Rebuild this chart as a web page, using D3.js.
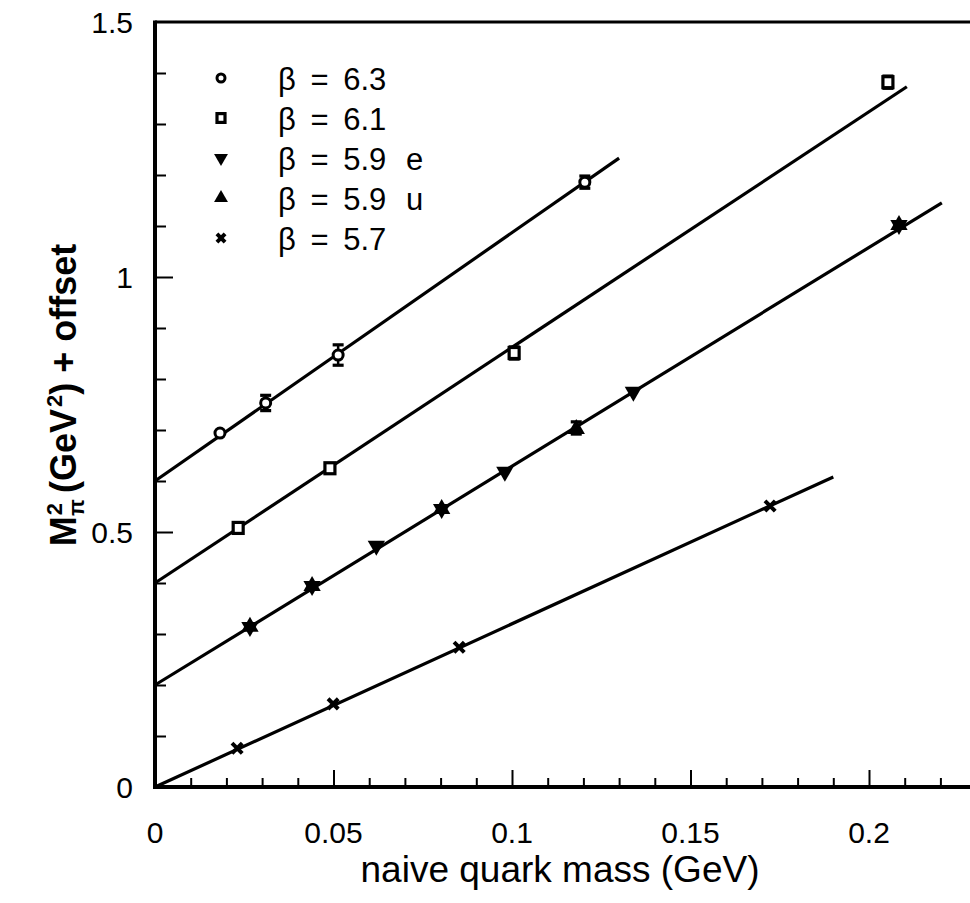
<!DOCTYPE html>
<html>
<head>
<meta charset="utf-8">
<script src="https://cdn.jsdelivr.net/npm/d3@7"></script>
<style>
  body { margin: 0; background: #fff; }
  svg { display: block; font-family: "Liberation Sans", Arial, Helvetica, sans-serif; }
</style>
</head>
<body>
<div id="chart"></div>
<script>
// series: quark mass (GeV), M_pi^2 + offset (GeV^2), error
const b63x = [0.0182, 0.031, 0.0513, 0.1204];
const b63y = [0.694, 0.753, 0.847, 1.186];
const b63e = [0, 0.015, 0.02, 0.012];

const b61x = [0.0233, 0.049, 0.1006, 0.2053];
const b61y = [0.508, 0.625, 0.851, 1.382];
const b61e = [0, 0, 0.012, 0.012];

const b59ex = [0.0266, 0.044, 0.062, 0.0803, 0.098, 0.134, 0.2084];
const b59ey = [0.312, 0.392, 0.471, 0.543, 0.616, 0.773, 1.100];

const b59ux = [0.0266, 0.044, 0.0803, 0.118, 0.2084];
const b59uy = [0.316, 0.396, 0.547, 0.704, 1.104];
const b59ue = [0, 0, 0, 0.012, 0];

const b57x = [0.023, 0.0499, 0.0852, 0.1723];
const b57y = [0.076, 0.163, 0.274, 0.551];

// linear fits: offset, slope, last x
const fitNames = ["6.3", "6.1", "5.9", "5.7"];
const fitOffset = [0.6, 0.4, 0.2, 0.0];
const fitSlope = [4.87, 4.62, 4.29, 3.2];
const fitEnd = [0.13, 0.2106, 0.2204, 0.19];

const legendLabels = ["β = 6.3", "β = 6.1", "β = 5.9", "β = 5.9", "β = 5.7"];
const legendSuffix = ["", "", "e", "u", ""];
const legendShapes = ["circle", "square", "down", "up", "cross"];

const xTicks = [0, 0.05, 0.1, 0.15, 0.2];
const yTicks = [0, 0.5, 1, 1.5];

const width = 970, height = 903;
const svg = d3.select("#chart").append("svg")
    .attr("width", width)
    .attr("height", height);

const x = d3.scaleLinear().domain([0, 0.2]).range([155, 869]);
const y = d3.scaleLinear().domain([0, 1.5]).range([787, 22]);

// fitted lines
const fits = fitNames.map((n, i) => [0, fitEnd[i]].map(xv => [xv, fitOffset[i] + fitSlope[i] * xv]));
const line = d3.line().x(d => x(d[0])).y(d => y(d[1]));
svg.append("g").selectAll("path")
    .data(fits)
    .enter().append("path")
    .attr("d", line)
    .attr("fill", "none")
    .attr("stroke", "#000")
    .attr("stroke-width", 3.2);

// symbols
function drawMark(g, shape, cx, cy, small) {
    const k = small ? 0.8 : 1;
    if (shape === "circle") {
        g.append("circle").attr("cx", cx).attr("cy", cy).attr("r", 5 * k)
            .attr("fill", "#fff").attr("stroke", "#000").attr("stroke-width", 3);
    } else if (shape === "square") {
        g.append("rect").attr("x", cx - 5 * k).attr("y", cy - 5.5 * k)
            .attr("width", 10 * k).attr("height", 11 * k)
            .attr("fill", "#fff").attr("stroke", "#000").attr("stroke-width", 3.2);
    } else if (shape === "down" || shape === "up") {
        const t = d3.symbol().type(d3.symbolTriangle).size(130 * k * k)();
        g.append("path").attr("d", t)
            .attr("transform", `translate(${cx},${cy})` + (shape === "down" ? " rotate(180)" : ""))
            .attr("fill", "#000");
    } else if (shape === "cross") {
        const c = d3.symbol().type(d3.symbolX).size(70 * k * k)();
        g.append("path").attr("d", c).attr("transform", `translate(${cx},${cy})`)
            .attr("fill", "none").attr("stroke", "#000").attr("stroke-width", 4);
    }
}

function errBars(g, xs, ys, es) {
    xs.forEach((xv, i) => {
        const e = es[i];
        if (!e) return;
        const cx = x(xv);
        g.append("line").attr("x1", cx).attr("x2", cx)
            .attr("y1", y(ys[i] - e)).attr("y2", y(ys[i] + e))
            .attr("stroke", "#000").attr("stroke-width", 2.5);
        [ys[i] - e, ys[i] + e].forEach(v => {
            g.append("line").attr("x1", cx - 5.5).attr("x2", cx + 5.5)
                .attr("y1", y(v)).attr("y2", y(v))
                .attr("stroke", "#000").attr("stroke-width", 3.2);
        });
    });
}

const marks = svg.append("g");
errBars(marks, b63x, b63y, b63e);
errBars(marks, b61x, b61y, b61e);
errBars(marks, b59ux, b59uy, b59ue);
b63x.forEach((v, i) => drawMark(marks, "circle", x(v), y(b63y[i])));
b61x.forEach((v, i) => drawMark(marks, "square", x(v), y(b61y[i])));
b59ex.forEach((v, i) => drawMark(marks, "down", x(v), y(b59ey[i]) - 1));
b59ux.forEach((v, i) => drawMark(marks, "up", x(v), y(b59uy[i]) + 1));
b57x.forEach((v, i) => drawMark(marks, "cross", x(v), y(b57y[i])));

// axes (inward ticks, minor every 0.01 / 0.1)
const xAxis = svg.append("g").attr("transform", `translate(0,${y(0)})`)
    .call(d3.axisBottom(x).tickValues(d3.range(0, 23).map(i => i / 100))
        .tickSize(0).tickFormat(""));
xAxis.select(".domain").remove();
xAxis.selectAll(".tick line")
    .attr("y2", (d, i) => i % 5 === 0 ? -17 : -9)
    .attr("stroke-width", 2);

const yAxis = svg.append("g").attr("transform", `translate(${x(0)},0)`)
    .call(d3.axisLeft(y).tickValues(d3.range(0, 15).map(i => i / 10))
        .tickSize(0).tickFormat(""));
yAxis.select(".domain").remove();
yAxis.selectAll(".tick line")
    .attr("x2", (d, i) => i % 5 === 0 ? 18 : 11)
    .attr("stroke-width", 2);

// frame
svg.append("line").attr("x1", x(0)).attr("x2", width).attr("y1", y(0)).attr("y2", y(0))
    .attr("stroke", "#000").attr("stroke-width", 4);
svg.append("line").attr("x1", x(0)).attr("x2", x(0)).attr("y1", y(0) + 2).attr("y2", y(1.5) - 1.5)
    .attr("stroke", "#000").attr("stroke-width", 4);
svg.append("line").attr("x1", x(0)).attr("x2", width).attr("y1", y(1.5)).attr("y2", y(1.5))
    .attr("stroke", "#000").attr("stroke-width", 3.2);

// tick labels
svg.append("g").selectAll("text")
    .data(xTicks)
    .enter().append("text")
    .attr("x", d => x(d))
    .attr("y", 843)
    .attr("text-anchor", "middle")
    .attr("font-size", 30)
    .text(d => d);
svg.append("g").selectAll("text")
    .data(yTicks)
    .enter().append("text")
    .attr("x", 133)
    .attr("y", d => y(d) + 11)
    .attr("text-anchor", "end")
    .attr("font-size", 30)
    .text(d => d);

// axis titles
svg.append("text")
    .attr("x", 560).attr("y", 882)
    .attr("text-anchor", "middle")
    .attr("font-size", 37)
    .text("naive quark mass (GeV)");

const yl = svg.append("text")
    .attr("transform", "translate(76,395) rotate(-90)")
    .attr("text-anchor", "middle")
    .attr("font-size", 36)
    .attr("font-weight", "bold");
yl.append("tspan").text("M");
yl.append("tspan").attr("font-size", 22).attr("dy", -14).attr("dx", 1).text("2");
yl.append("tspan").attr("font-size", 22).attr("dy", 22).attr("dx", -13).text("π");
yl.append("tspan").attr("dy", -8).attr("dx", 6).text("(GeV");
yl.append("tspan").attr("font-size", 22).attr("dy", -14).attr("dx", 2).text("2");
yl.append("tspan").attr("dy", 14).text(") + offset");

// legend
const leg = svg.append("g");
legendLabels.forEach((lab, i) => {
    const cy = 78 + i * 40;
    drawMark(leg, legendShapes[i], 221, cy, true);
    leg.append("text").attr("x", 278).attr("y", cy + 12)
        .attr("font-size", 31).attr("word-spacing", 6)
        .text(lab);
    if (legendSuffix[i]) {
        leg.append("text").attr("x", 406).attr("y", cy + 12)
            .attr("font-size", 31).text(legendSuffix[i]);
    }
});
</script>
</body>
</html>
